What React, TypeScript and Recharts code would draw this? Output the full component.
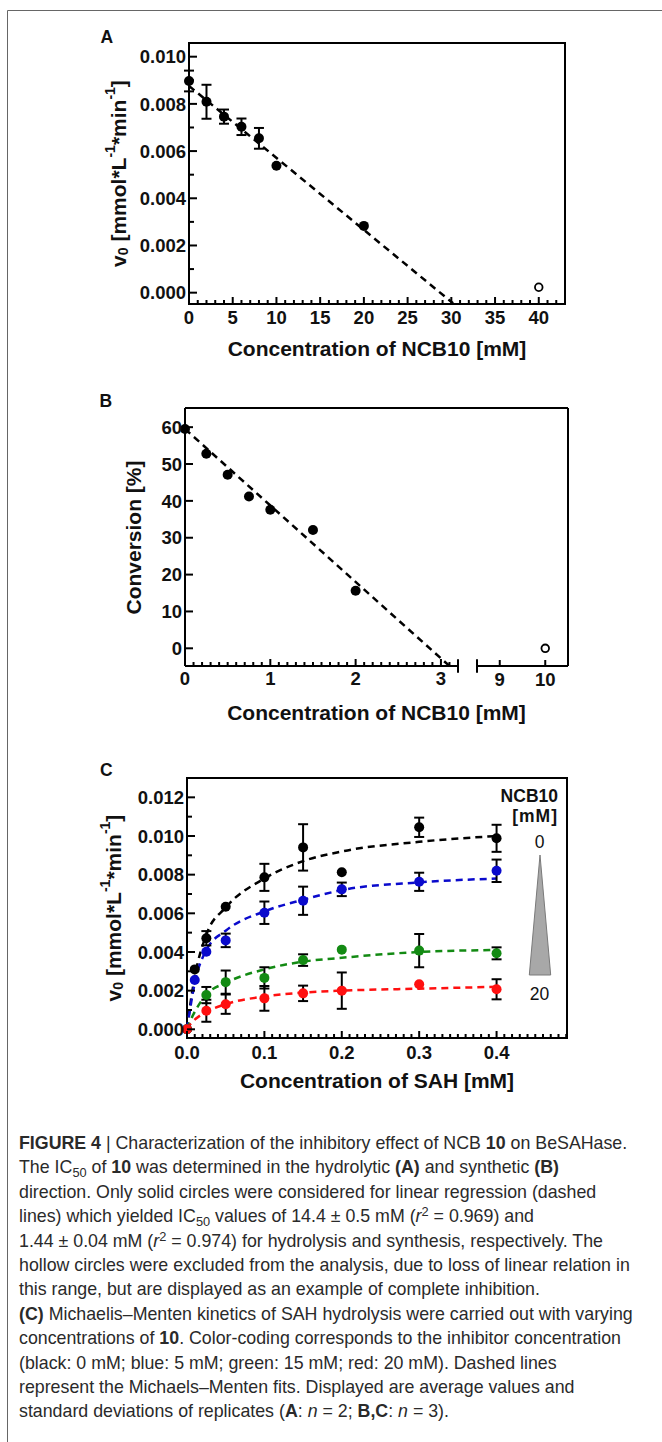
import React from 'react';
import {
  ComposedChart,
  Scatter,
  Line,
  XAxis,
  YAxis,
  ErrorBar,
  ReferenceArea,
  ReferenceLine,
} from 'recharts';

// Panel A: hydrolytic direction
const concA = [0, 2, 4, 6, 8, 10, 20];
const rateA = [0.00897, 0.00809, 0.00746, 0.00703, 0.00654, 0.00538, 0.00283];
const sdA = [0.00044, 0.00072, 0.0003, 0.00035, 0.00044, 0, 0];
const concAOut = [40];
const rateAOut = [0.00023];
const fitAX = [0, 30.2];
const fitAY = [0.00876, -0.00045];
const labelsAX = [0, 5, 10, 15, 20, 25, 30, 35, 40];
const labelsAY = [0, 0.002, 0.004, 0.006, 0.008, 0.01];

// Panel B: synthetic direction
const concB = [0, 0.25, 0.5, 0.75, 1, 1.5, 2];
const convB = [59.5, 52.8, 47.1, 41.2, 37.6, 32.1, 15.6];
const concBOut = [10];
const convBOut = [0];
const fitBX = [0, 3.1];
const fitBY = [59.5, -4.8];
const labelsBXLeft = [0, 1, 2, 3];
const labelsBXRight = [9, 10];
const labelsBY = [0, 10, 20, 30, 40, 50, 60];

// Panel C: Michaelis-Menten kinetics
const sahC = [0, 0.01, 0.025, 0.05, 0.1, 0.15, 0.2, 0.3, 0.4];
const v0Black = [0, 0.0031, 0.00471, 0.00634, 0.00786, 0.00941, 0.00812, 0.01045, 0.00988];
const sdBlack = [0, 0, 0.00037, 0, 0.0007, 0.0012, 0, 0.0005, 0.0007];
const v0Blue = [0, 0.00255, 0.00401, 0.0046, 0.00603, 0.00665, 0.00724, 0.00763, 0.0082];
const sdBlue = [0, 0, 0, 0.00035, 0.00058, 0.00073, 0.00035, 0.00047, 0.00058];
const sahCLow = [0, 0.025, 0.05, 0.1, 0.15, 0.2, 0.3, 0.4];
const v0Green = [0, 0.00177, 0.00244, 0.00266, 0.00358, 0.00412, 0.00407, 0.00393];
const sdGreen = [0, 0.00042, 0.0006, 0.00055, 0.0003, 0, 0.00086, 0.00031];
const v0Red = [0, 0.00096, 0.0013, 0.0016, 0.00186, 0.002, 0.00233, 0.00207];
const sdRed = [0, 0.00057, 0.0005, 0.00064, 0.0004, 0.00094, 0, 0.00052];
const fitCX = [0, 0.005, 0.01, 0.025, 0.05, 0.1, 0.15, 0.2, 0.3, 0.4];
const fitBlack = [0, 0.0015, 0.0027, 0.0049, 0.0063, 0.0078, 0.0087, 0.0092, 0.0097, 0.01];
const fitBlue = [0, 0.0013, 0.0024, 0.0041, 0.0051, 0.0061, 0.0067, 0.0072, 0.0076, 0.0078];
const fitGreen = [0, 0.0005, 0.0009, 0.0018, 0.0024, 0.0031, 0.0035, 0.0037, 0.004, 0.0041];
const fitRed = [0, 0.0003, 0.0005, 0.0009, 0.0013, 0.0017, 0.0019, 0.002, 0.0021, 0.0022];
const labelsCX = [0, 0.1, 0.2, 0.3, 0.4];
const labelsCY = [0, 0.002, 0.004, 0.006, 0.008, 0.01, 0.012];

const FONT = '"Liberation Sans", Arial, Helvetica, sans-serif';
const INK = '#111';
const COLORS = { black: '#000000', blue: '#0a0acc', green: '#138a13', red: '#ff1010' };

const zip = (xs: number[], ys: number[], es?: number[]) =>
  xs.map((x, i) => ({ x, y: ys[i], e: es ? es[i] : 0 }));

// evenly spaced minor tick positions (axis decoration only)
const steps = (n: number, step: number) =>
  Array.from({ length: n }, (_, i) => +(i * step).toFixed(4));

const isIn = (list: number[], v: number) => list.some((m) => Math.abs(m - v) < 1e-9);

const tickText = { fontFamily: FONT, fontSize: 18.5, fontWeight: 700, fill: INK };

function bottomTick(majors: number[], fmt: (v: number) => string, gap: number) {
  return (p: any) => {
    const v = p.payload.value;
    const major = isIn(majors, v);
    return (
      <g>
        <line x1={p.x} x2={p.x} y1={p.y} y2={p.y - (major ? 7 : 4)} stroke="#000" strokeWidth={2} />
        {major && (
          <text x={p.x} y={p.y + gap} dy="0.72em" textAnchor="middle" {...tickText}>
            {fmt(v)}
          </text>
        )}
      </g>
    );
  };
}

function leftTick(majors: number[], fmt: (v: number) => string) {
  return (p: any) => {
    const v = p.payload.value;
    const major = isIn(majors, v);
    return (
      <g>
        <line x1={p.x} x2={p.x + (major ? 8 : 5)} y1={p.y} y2={p.y} stroke="#000" strokeWidth={2} />
        {major && (
          <text x={p.x - 3} y={p.y} dy="0.36em" textAnchor="end" {...tickText}>
            {fmt(v)}
          </text>
        )}
      </g>
    );
  };
}

// tx, ty are in the chart's own svg coordinates
function YTitle(props: any) {
  const { tx, ty, kind } = props;
  const common = {
    x: tx,
    y: ty,
    transform: `rotate(-90 ${tx} ${ty})`,
    textAnchor: 'middle' as const,
    dominantBaseline: 'central' as const,
    fontFamily: FONT,
    fontSize: 21,
    fontWeight: 700,
    fill: INK,
  };
  if (kind === 'conv') return <text {...common}>Conversion [%]</text>;
  return (
    <text {...common}>
      v<tspan dy={5} fontSize={14}>0</tspan>
      <tspan dy={-5}> [mmol*L</tspan>
      <tspan dy={-8} fontSize={14}>-1</tspan>
      <tspan dy={8}>*min</tspan>
      <tspan dy={-8} fontSize={14}>-1</tspan>
      <tspan dy={8}>]</tspan>
    </text>
  );
}

const xTitle = (value: string, offset: number) => ({
  value,
  position: 'bottom' as const,
  offset,
  fill: INK,
  fontSize: 21,
  fontWeight: 700,
  fontFamily: FONT,
});

const dot = (fill: string) => (p: any) => <circle cx={p.cx} cy={p.cy} r={5} fill={fill} />;
const ring = (p: any) => (
  <circle cx={p.cx} cy={p.cy} r={3.8} fill="#fff" stroke="#000" strokeWidth={1.8} />
);

const fmt3 = (v: number) => v.toFixed(3);
const fmt1 = (v: number) => v.toFixed(1);
const fmt0 = (v: number) => String(v);

const bottomAxis = {
  type: 'number' as const,
  dataKey: 'x',
  interval: 0 as const,
  height: 1,
  tickSize: 0,
  tickMargin: 0,
  axisLine: false,
  tickLine: false,
};

const leftAxis = {
  type: 'number' as const,
  interval: 0 as const,
  tickSize: 0,
  tickMargin: 0,
  axisLine: false,
  tickLine: false,
};

function PanelA() {
  const domX: [number, number] = [0, 43];
  const domY: [number, number] = [-0.00048, 0.01058];
  return (
    <ComposedChart width={662} height={370} margin={{ top: 43, right: 97, bottom: 65, left: 0 }}>
      <XAxis
        {...bottomAxis}
        domain={domX}
        ticks={steps(43, 1)}
        tick={bottomTick(labelsAX, fmt0, 7)}
        label={xTitle('Concentration of NCB10 [mM]', 36)}
      />
      <YAxis
        {...leftAxis}
        domain={domY}
        ticks={steps(11, 0.001)}
        width={189}
        tick={leftTick(labelsAY, fmt3)}
        label={<YTitle tx={118} ty={173.5} kind="v0" />}
      />
      <ReferenceArea x1={domX[0]} x2={domX[1]} y1={domY[0]} y2={domY[1]} fill="none" stroke="#000" strokeWidth={2} />
      <Line
        data={zip(fitAX, fitAY)}
        dataKey="y"
        type="linear"
        stroke="#000"
        strokeWidth={2.5}
        strokeDasharray="7 5"
        dot={false}
        activeDot={false}
        isAnimationActive={false}
      />
      <Scatter data={zip(concA, rateA, sdA)} dataKey="y" shape={dot('#000')} isAnimationActive={false}>
        <ErrorBar dataKey="e" direction="y" width={5} stroke="#000" strokeWidth={2} isAnimationActive={false} />
      </Scatter>
      <Scatter data={zip(concAOut, rateAOut)} dataKey="y" shape={ring} isAnimationActive={false} />
    </ComposedChart>
  );
}

function PanelB() {
  const domL: [number, number] = [0, 3.2];
  const domR: [number, number] = [8.5, 10.5];
  const domY: [number, number] = [-4.8, 65.2];
  const edge = { stroke: '#000', strokeWidth: 2, ifOverflow: 'visible' as const };
  return (
    <ComposedChart width={662} height={370} margin={{ top: 38, right: 94, bottom: 72, left: 0 }}>
      <XAxis
        {...bottomAxis}
        xAxisId="L"
        domain={domL}
        padding={{ left: 0, right: 110 }}
        ticks={steps(32, 0.1)}
        tick={bottomTick(labelsBXLeft, fmt0, 6)}
        label={xTitle('Concentration of NCB10 [mM]', 38)}
      />
      <XAxis
        {...bottomAxis}
        xAxisId="R"
        domain={domR}
        padding={{ left: 292, right: 0 }}
        ticks={labelsBXRight}
        tick={bottomTick(labelsBXRight, fmt0, 6)}
      />
      <YAxis
        {...leftAxis}
        domain={domY}
        ticks={labelsBY}
        width={185}
        tick={leftTick(labelsBY, fmt0)}
        label={<YTitle tx={133} ty={167.5} kind="conv" />}
      />
      <ReferenceLine xAxisId="L" y={domY[1]} {...edge} />
      <ReferenceLine xAxisId="L" x={domL[0]} {...edge} />
      <ReferenceLine xAxisId="R" x={domR[1]} {...edge} />
      <ReferenceLine xAxisId="L" segment={[{ x: domL[0], y: domY[0] }, { x: domL[1], y: domY[0] }]} {...edge} />
      <ReferenceLine xAxisId="R" segment={[{ x: domR[0], y: domY[0] }, { x: domR[1], y: domY[0] }]} {...edge} />
      <ReferenceLine xAxisId="L" segment={[{ x: domL[1], y: -6.6 }, { x: domL[1], y: -3.0 }]} {...edge} />
      <ReferenceLine xAxisId="R" segment={[{ x: domR[0], y: -6.6 }, { x: domR[0], y: -3.0 }]} {...edge} />
      <Line
        xAxisId="L"
        data={zip(fitBX, fitBY)}
        dataKey="y"
        type="linear"
        stroke="#000"
        strokeWidth={2.5}
        strokeDasharray="7 5"
        dot={false}
        activeDot={false}
        isAnimationActive={false}
      />
      <Scatter xAxisId="L" data={zip(concB, convB)} dataKey="y" shape={dot('#000')} isAnimationActive={false} />
      <Scatter xAxisId="R" data={zip(concBOut, convBOut)} dataKey="y" shape={ring} isAnimationActive={false} />
    </ComposedChart>
  );
}

function PanelC() {
  const domX: [number, number] = [0, 0.491];
  const domY: [number, number] = [-0.00045, 0.013];
  const fits = [
    { ys: fitBlack, c: COLORS.black },
    { ys: fitBlue, c: COLORS.blue },
    { ys: fitGreen, c: COLORS.green },
    { ys: fitRed, c: COLORS.red },
  ];
  const series = [
    { xs: sahC, ys: v0Black, es: sdBlack, c: COLORS.black },
    { xs: sahC, ys: v0Blue, es: sdBlue, c: COLORS.blue },
    { xs: sahCLow, ys: v0Green, es: sdGreen, c: COLORS.green },
    { xs: sahCLow, ys: v0Red, es: sdRed, c: COLORS.red },
  ];
  return (
    <ComposedChart width={662} height={400} margin={{ top: 38, right: 95, bottom: 101, left: 0 }}>
      <XAxis
        {...bottomAxis}
        domain={domX}
        ticks={steps(50, 0.01)}
        tick={bottomTick(labelsCX, fmt1, 8)}
        label={xTitle('Concentration of SAH [mM]', 34)}
      />
      <YAxis
        {...leftAxis}
        domain={domY}
        ticks={steps(13, 0.001)}
        width={187}
        tick={leftTick(labelsCY, fmt3)}
        label={<YTitle tx={113} ty={168} kind="v0" />}
      />
      <ReferenceArea x1={domX[0]} x2={domX[1]} y1={domY[0]} y2={domY[1]} fill="none" stroke="#000" strokeWidth={2} />
      {fits.map((f, i) => (
        <Line
          key={'fit' + i}
          data={zip(fitCX, f.ys)}
          dataKey="y"
          type="monotone"
          stroke={f.c}
          strokeWidth={2.5}
          strokeDasharray="7 5"
          dot={false}
          activeDot={false}
          isAnimationActive={false}
        />
      ))}
      {series.map((s, i) => (
        <Scatter key={'s' + i} data={zip(s.xs, s.ys, s.es)} dataKey="y" shape={dot(s.c)} isAnimationActive={false}>
          <ErrorBar dataKey="e" direction="y" width={5} stroke="#000" strokeWidth={2} isAnimationActive={false} />
        </Scatter>
      ))}
    </ComposedChart>
  );
}

const sub = (t: string) => (
  <span style={{ fontSize: '0.72em', position: 'relative', top: '0.3em', lineHeight: 0 }}>{t}</span>
);
const sup = (t: string) => (
  <span style={{ fontSize: '0.72em', position: 'relative', top: '-0.45em', lineHeight: 0 }}>{t}</span>
);

const captionLines: React.ReactNode[] = [
  <>
    <b>FIGURE 4</b> | Characterization of the inhibitory effect of NCB <b>10</b> on BeSAHase.
  </>,
  <>
    The IC{sub('50')} of <b>10</b> was determined in the hydrolytic <b>(A)</b> and synthetic <b>(B)</b>
  </>,
  <>direction. Only solid circles were considered for linear regression (dashed</>,
  <>
    lines) which yielded IC{sub('50')} values of 14.4 ± 0.5 mM (<i>r</i>
    {sup('2')} = 0.969) and
  </>,
  <>
    1.44 ± 0.04 mM (<i>r</i>
    {sup('2')} = 0.974) for hydrolysis and synthesis, respectively. The
  </>,
  <>hollow circles were excluded from the analysis, due to loss of linear relation in</>,
  <>this range, but are displayed as an example of complete inhibition.</>,
  <>
    <b>(C)</b> Michaelis–Menten kinetics of SAH hydrolysis were carried out with varying
  </>,
  <>
    concentrations of <b>10</b>. Color-coding corresponds to the inhibitor concentration
  </>,
  <>(black: 0 mM; blue: 5 mM; green: 15 mM; red: 20 mM). Dashed lines</>,
  <>represent the Michaels–Menten fits. Displayed are average values and</>,
  <>
    standard deviations of replicates (<b>A</b>: <i>n</i> = 2; <b>B,C</b>: <i>n</i> = 3).
  </>,
];

export default function App() {
  const letter = { fontFamily: FONT, fontSize: 17.5, fontWeight: 700, fill: INK };
  return (
    <div style={{ position: 'relative', width: 662, height: 1442, overflow: 'hidden', background: '#fff' }}>
      <style>{'body{margin:0}'}</style>
      <div style={{ position: 'absolute', left: 0, top: 0 }}>
        <PanelA />
      </div>
      <div style={{ position: 'absolute', left: 0, top: 370 }}>
        <PanelB />
      </div>
      <div style={{ position: 'absolute', left: 0, top: 740 }}>
        <PanelC />
      </div>
      <svg
        width={662}
        height={1442}
        style={{ position: 'absolute', left: 0, top: 0, pointerEvents: 'none' }}
      >
        <path d="M7.5 1442 V10.5 H662" fill="none" stroke="#666" strokeWidth={1} />
        <text x={100.5} y={43} {...letter}>A</text>
        <text x={99.5} y={407} {...letter}>B</text>
        <text x={100} y={776} {...letter}>C</text>
        <text x={558} y={801.5} textAnchor="end" {...letter}>NCB10</text>
        <text x={558} y={821.5} textAnchor="end" letterSpacing={1} {...letter}>[mM]</text>
        <text x={539.5} y={847.5} textAnchor="middle" fontFamily={FONT} fontSize={17.5} fill={INK}>0</text>
        <polygon points="540,855 529.3,975 550.7,975" fill="#a8a8a8" stroke="#7a7a7a" strokeWidth={1} />
        <text x={539.5} y={1000} textAnchor="middle" fontFamily={FONT} fontSize={17.5} fill={INK}>20</text>
      </svg>
      <div
        style={{
          position: 'absolute',
          left: 19,
          top: 1131,
          fontFamily: FONT,
          fontSize: 17.8,
          lineHeight: '24.4px',
          color: '#2a2a2a',
          whiteSpace: 'nowrap',
        }}
      >
        {captionLines.map((l, i) => (
          <div key={i}>{l}</div>
        ))}
      </div>
    </div>
  );
}
